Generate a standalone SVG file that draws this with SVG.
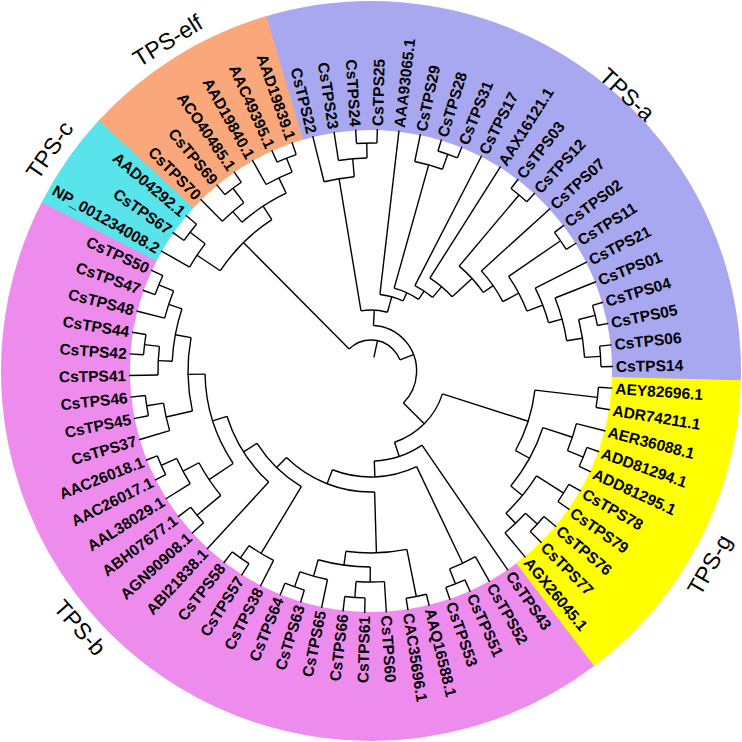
<svg xmlns="http://www.w3.org/2000/svg" width="742" height="742" viewBox="0 0 742 742">
<style>
.t line,.t circle{fill:none;stroke:#000;stroke-width:1.4}
.ring circle{fill:none;stroke-width:129}
text.l{font-family:"Liberation Sans",Arial,sans-serif;font-weight:bold;font-size:15.5px;dominant-baseline:central}
text.e{text-anchor:end}
text.k{font-family:"Liberation Sans",Arial,sans-serif;font-size:23px;text-anchor:middle;dominant-baseline:central}
</style>
<rect width="742" height="742" fill="#fff"/>
<g id="clade-ranges" class="ring" transform="translate(371 371)">
<circle r="305.5" pathLength="360" stroke="#a8a8f0" stroke-dasharray="108.2 360" transform="rotate(-106.6)"/>
<circle r="305.5" pathLength="360" stroke="#ffff00" stroke-dasharray="51.6 360" transform="rotate(1.45)"/>
<circle r="305.5" pathLength="360" stroke="#ee8cee" stroke-dasharray="154.4 360" transform="rotate(52.9)"/>
<circle r="305.5" pathLength="360" stroke="#58e4ea" stroke-dasharray="15.6 360" transform="rotate(207.15)"/>
<circle r="305.5" pathLength="360" stroke="#f9a77b" stroke-dasharray="31 360" transform="rotate(222.6)"/>
</g>
<g id="connectors" class="t" transform="translate(371 371)">
<line x1="14" x2="31" transform="rotate(-77.94)"/>
<circle r="31" pathLength="360" stroke-dasharray="113.7 360" transform="rotate(225.21)"/>
<line x1="31" x2="181" transform="rotate(225.21)"/>
<circle r="181" pathLength="360" stroke-dasharray="23.15 360" transform="rotate(213.64)"/>
<line x1="181" x2="209" transform="rotate(213.64)"/>
<circle r="209" pathLength="360" stroke-dasharray="7.71 360" transform="rotate(209.79)"/>
<line x1="209" x2="242" transform="rotate(209.79)"/>
<line x1="209" x2="228" transform="rotate(217.5)"/>
<circle r="228" pathLength="360" stroke-dasharray="5.14 360" transform="rotate(214.93)"/>
<line x1="228" x2="242" transform="rotate(214.93)"/>
<line x1="228" x2="242" transform="rotate(220.07)"/>
<line x1="181" x2="197" transform="rotate(236.79)"/>
<circle r="197" pathLength="360" stroke-dasharray="15.43 360" transform="rotate(229.07)"/>
<line x1="197" x2="211" transform="rotate(229.07)"/>
<circle r="211" pathLength="360" stroke-dasharray="7.72 360" transform="rotate(225.21)"/>
<line x1="211" x2="242" transform="rotate(225.21)"/>
<line x1="211" x2="229" transform="rotate(232.93)"/>
<circle r="229" pathLength="360" stroke-dasharray="5.14 360" transform="rotate(230.36)"/>
<line x1="229" x2="242" transform="rotate(230.36)"/>
<line x1="229" x2="242" transform="rotate(235.5)"/>
<line x1="197" x2="214" transform="rotate(244.5)"/>
<circle r="214" pathLength="360" stroke-dasharray="7.72 360" transform="rotate(240.64)"/>
<line x1="214" x2="242" transform="rotate(240.64)"/>
<line x1="214" x2="229" transform="rotate(248.36)"/>
<circle r="229" pathLength="360" stroke-dasharray="5.14 360" transform="rotate(245.79)"/>
<line x1="229" x2="242" transform="rotate(245.79)"/>
<line x1="229" x2="242" transform="rotate(250.93)"/>
<line x1="31" x2="45.6" transform="rotate(-21.09)"/>
<circle r="45.6" pathLength="360" stroke-dasharray="131.62 360" transform="rotate(-86.9)"/>
<line x1="45.6" x2="61" transform="rotate(-86.9)"/>
<circle r="61" pathLength="360" stroke-dasharray="25.05 360" transform="rotate(-99.43)"/>
<line x1="61" x2="195" transform="rotate(-99.43)"/>
<circle r="195" pathLength="360" stroke-dasharray="9 360" transform="rotate(-103.93)"/>
<line x1="195" x2="242" transform="rotate(-103.93)"/>
<line x1="195" x2="213" transform="rotate(-94.93)"/>
<circle r="213" pathLength="360" stroke-dasharray="7.72 360" transform="rotate(-98.79)"/>
<line x1="213" x2="242" transform="rotate(-98.79)"/>
<line x1="213" x2="228" transform="rotate(-91.07)"/>
<circle r="228" pathLength="360" stroke-dasharray="5.14 360" transform="rotate(-93.64)"/>
<line x1="228" x2="242" transform="rotate(-93.64)"/>
<line x1="228" x2="242" transform="rotate(-88.5)"/>
<line x1="61" x2="77" transform="rotate(-74.38)"/>
<circle r="77" pathLength="360" stroke-dasharray="17.97 360" transform="rotate(-83.36)"/>
<line x1="77" x2="242" transform="rotate(-83.36)"/>
<line x1="77" x2="86" transform="rotate(-65.39)"/>
<circle r="86" pathLength="360" stroke-dasharray="17.94 360" transform="rotate(-74.36)"/>
<line x1="86" x2="214" transform="rotate(-74.36)"/>
<circle r="214" pathLength="360" stroke-dasharray="7.71 360" transform="rotate(-78.21)"/>
<line x1="214" x2="242" transform="rotate(-78.21)"/>
<line x1="214" x2="230" transform="rotate(-70.5)"/>
<circle r="230" pathLength="360" stroke-dasharray="5.14 360" transform="rotate(-73.07)"/>
<line x1="230" x2="242" transform="rotate(-73.07)"/>
<line x1="230" x2="242" transform="rotate(-67.93)"/>
<line x1="86" x2="96" transform="rotate(-56.42)"/>
<circle r="96" pathLength="360" stroke-dasharray="12.74 360" transform="rotate(-62.79)"/>
<line x1="96" x2="242" transform="rotate(-62.79)"/>
<line x1="96" x2="110" transform="rotate(-50.05)"/>
<circle r="110" pathLength="360" stroke-dasharray="15.18 360" transform="rotate(-57.64)"/>
<line x1="110" x2="242" transform="rotate(-57.64)"/>
<line x1="110" x2="137" transform="rotate(-42.46)"/>
<circle r="137" pathLength="360" stroke-dasharray="14.95 360" transform="rotate(-49.93)"/>
<line x1="137" x2="230" transform="rotate(-49.93)"/>
<circle r="230" pathLength="360" stroke-dasharray="5.14 360" transform="rotate(-52.5)"/>
<line x1="230" x2="242" transform="rotate(-52.5)"/>
<line x1="230" x2="242" transform="rotate(-47.36)"/>
<line x1="137" x2="149" transform="rotate(-34.98)"/>
<circle r="149" pathLength="360" stroke-dasharray="14.46 360" transform="rotate(-42.21)"/>
<line x1="149" x2="242" transform="rotate(-42.21)"/>
<line x1="149" x2="167" transform="rotate(-27.75)"/>
<circle r="167" pathLength="360" stroke-dasharray="13.5 360" transform="rotate(-34.5)"/>
<line x1="167" x2="230" transform="rotate(-34.5)"/>
<circle r="230" pathLength="360" stroke-dasharray="5.14 360" transform="rotate(-37.07)"/>
<line x1="230" x2="242" transform="rotate(-37.07)"/>
<line x1="230" x2="242" transform="rotate(-31.93)"/>
<line x1="167" x2="184" transform="rotate(-21)"/>
<circle r="184" pathLength="360" stroke-dasharray="11.58 360" transform="rotate(-26.79)"/>
<line x1="184" x2="242" transform="rotate(-26.79)"/>
<line x1="184" x2="198" transform="rotate(-15.21)"/>
<circle r="198" pathLength="360" stroke-dasharray="12.85 360" transform="rotate(-21.64)"/>
<line x1="198" x2="242" transform="rotate(-21.64)"/>
<line x1="198" x2="214" transform="rotate(-8.79)"/>
<circle r="214" pathLength="360" stroke-dasharray="10.29 360" transform="rotate(-13.93)"/>
<line x1="214" x2="231" transform="rotate(-13.93)"/>
<circle r="231" pathLength="360" stroke-dasharray="5.14 360" transform="rotate(-16.5)"/>
<line x1="231" x2="242" transform="rotate(-16.5)"/>
<line x1="231" x2="242" transform="rotate(-11.36)"/>
<line x1="214" x2="230" transform="rotate(-3.64)"/>
<circle r="230" pathLength="360" stroke-dasharray="5.14 360" transform="rotate(-6.21)"/>
<line x1="230" x2="242" transform="rotate(-6.21)"/>
<line x1="230" x2="242" transform="rotate(-1.07)"/>
<line x1="45.6" x2="75" transform="rotate(44.72)"/>
<circle r="75" pathLength="360" stroke-dasharray="53.97 360" transform="rotate(17.73)"/>
<line x1="75" x2="165" transform="rotate(17.73)"/>
<circle r="165" pathLength="360" stroke-dasharray="22.18 360" transform="rotate(6.64)"/>
<line x1="165" x2="228" transform="rotate(6.64)"/>
<circle r="228" pathLength="360" stroke-dasharray="5.14 360" transform="rotate(4.07)"/>
<line x1="228" x2="242" transform="rotate(4.07)"/>
<line x1="228" x2="242" transform="rotate(9.21)"/>
<line x1="165" x2="181" transform="rotate(28.82)"/>
<circle r="181" pathLength="360" stroke-dasharray="21.22 360" transform="rotate(18.21)"/>
<line x1="181" x2="212" transform="rotate(18.21)"/>
<circle r="212" pathLength="360" stroke-dasharray="7.71 360" transform="rotate(14.36)"/>
<line x1="212" x2="242" transform="rotate(14.36)"/>
<line x1="212" x2="229" transform="rotate(22.07)"/>
<circle r="229" pathLength="360" stroke-dasharray="5.14 360" transform="rotate(19.5)"/>
<line x1="229" x2="242" transform="rotate(19.5)"/>
<line x1="229" x2="242" transform="rotate(24.64)"/>
<line x1="181" x2="196" transform="rotate(39.43)"/>
<circle r="196" pathLength="360" stroke-dasharray="14.14 360" transform="rotate(32.36)"/>
<line x1="196" x2="228" transform="rotate(32.36)"/>
<circle r="228" pathLength="360" stroke-dasharray="5.14 360" transform="rotate(29.79)"/>
<line x1="228" x2="242" transform="rotate(29.79)"/>
<line x1="228" x2="242" transform="rotate(34.93)"/>
<line x1="196" x2="210" transform="rotate(46.5)"/>
<circle r="210" pathLength="360" stroke-dasharray="7.72 360" transform="rotate(42.64)"/>
<line x1="210" x2="226" transform="rotate(42.64)"/>
<circle r="226" pathLength="360" stroke-dasharray="5.14 360" transform="rotate(40.07)"/>
<line x1="226" x2="242" transform="rotate(40.07)"/>
<line x1="226" x2="242" transform="rotate(45.21)"/>
<line x1="210" x2="242" transform="rotate(50.36)"/>
<line x1="75" x2="90" transform="rotate(71.7)"/>
<circle r="90" pathLength="360" stroke-dasharray="32.4 360" transform="rotate(55.5)"/>
<line x1="90" x2="242" transform="rotate(55.5)"/>
<line x1="90" x2="106" transform="rotate(87.9)"/>
<circle r="106" pathLength="360" stroke-dasharray="46.81 360" transform="rotate(64.5)"/>
<line x1="106" x2="213" transform="rotate(64.5)"/>
<circle r="213" pathLength="360" stroke-dasharray="7.72 360" transform="rotate(60.64)"/>
<line x1="213" x2="242" transform="rotate(60.64)"/>
<line x1="213" x2="229" transform="rotate(68.36)"/>
<circle r="229" pathLength="360" stroke-dasharray="5.14 360" transform="rotate(65.79)"/>
<line x1="229" x2="242" transform="rotate(65.79)"/>
<line x1="229" x2="242" transform="rotate(70.93)"/>
<line x1="106" x2="121" transform="rotate(111.31)"/>
<circle r="121" pathLength="360" stroke-dasharray="46.04 360" transform="rotate(88.29)"/>
<line x1="121" x2="182" transform="rotate(88.29)"/>
<circle r="182" pathLength="360" stroke-dasharray="19.29 360" transform="rotate(78.64)"/>
<line x1="182" x2="230" transform="rotate(78.64)"/>
<circle r="230" pathLength="360" stroke-dasharray="5.14 360" transform="rotate(76.07)"/>
<line x1="230" x2="242" transform="rotate(76.07)"/>
<line x1="230" x2="242" transform="rotate(81.21)"/>
<line x1="182" x2="196" transform="rotate(97.93)"/>
<circle r="196" pathLength="360" stroke-dasharray="15.43 360" transform="rotate(90.21)"/>
<line x1="196" x2="211" transform="rotate(90.21)"/>
<circle r="211" pathLength="360" stroke-dasharray="7.71 360" transform="rotate(86.36)"/>
<line x1="211" x2="242" transform="rotate(86.36)"/>
<line x1="211" x2="227" transform="rotate(94.07)"/>
<circle r="227" pathLength="360" stroke-dasharray="5.14 360" transform="rotate(91.5)"/>
<line x1="227" x2="242" transform="rotate(91.5)"/>
<line x1="227" x2="242" transform="rotate(96.64)"/>
<line x1="196" x2="213" transform="rotate(105.64)"/>
<circle r="213" pathLength="360" stroke-dasharray="7.71 360" transform="rotate(101.79)"/>
<line x1="213" x2="242" transform="rotate(101.79)"/>
<line x1="213" x2="229" transform="rotate(109.5)"/>
<circle r="229" pathLength="360" stroke-dasharray="5.14 360" transform="rotate(106.93)"/>
<line x1="229" x2="242" transform="rotate(106.93)"/>
<line x1="229" x2="242" transform="rotate(112.07)"/>
<line x1="121" x2="135" transform="rotate(134.33)"/>
<circle r="135" pathLength="360" stroke-dasharray="26.52 360" transform="rotate(121.07)"/>
<line x1="135" x2="213" transform="rotate(121.07)"/>
<circle r="213" pathLength="360" stroke-dasharray="7.72 360" transform="rotate(117.21)"/>
<line x1="213" x2="242" transform="rotate(117.21)"/>
<line x1="213" x2="228" transform="rotate(124.93)"/>
<circle r="228" pathLength="360" stroke-dasharray="5.14 360" transform="rotate(122.36)"/>
<line x1="228" x2="242" transform="rotate(122.36)"/>
<line x1="228" x2="242" transform="rotate(127.5)"/>
<line x1="135" x2="151" transform="rotate(147.59)"/>
<circle r="151" pathLength="360" stroke-dasharray="29.9 360" transform="rotate(132.64)"/>
<line x1="151" x2="242" transform="rotate(132.64)"/>
<line x1="151" x2="166" transform="rotate(162.54)"/>
<circle r="166" pathLength="360" stroke-dasharray="32.79 360" transform="rotate(146.14)"/>
<line x1="166" x2="195" transform="rotate(146.14)"/>
<circle r="195" pathLength="360" stroke-dasharray="11.57 360" transform="rotate(140.36)"/>
<line x1="195" x2="226" transform="rotate(140.36)"/>
<circle r="226" pathLength="360" stroke-dasharray="5.14 360" transform="rotate(137.79)"/>
<line x1="226" x2="242" transform="rotate(137.79)"/>
<line x1="226" x2="242" transform="rotate(142.93)"/>
<line x1="195" x2="213" transform="rotate(151.93)"/>
<circle r="213" pathLength="360" stroke-dasharray="7.72 360" transform="rotate(148.07)"/>
<line x1="213" x2="242" transform="rotate(148.07)"/>
<line x1="213" x2="230" transform="rotate(155.79)"/>
<circle r="230" pathLength="360" stroke-dasharray="5.15 360" transform="rotate(153.21)"/>
<line x1="230" x2="242" transform="rotate(153.21)"/>
<line x1="230" x2="242" transform="rotate(158.36)"/>
<line x1="166" x2="183" transform="rotate(178.93)"/>
<circle r="183" pathLength="360" stroke-dasharray="23.14 360" transform="rotate(167.36)"/>
<line x1="183" x2="210" transform="rotate(167.36)"/>
<circle r="210" pathLength="360" stroke-dasharray="7.71 360" transform="rotate(163.5)"/>
<line x1="210" x2="242" transform="rotate(163.5)"/>
<line x1="210" x2="227" transform="rotate(171.21)"/>
<circle r="227" pathLength="360" stroke-dasharray="5.15 360" transform="rotate(168.64)"/>
<line x1="227" x2="242" transform="rotate(168.64)"/>
<line x1="227" x2="242" transform="rotate(173.79)"/>
<line x1="183" x2="199" transform="rotate(190.5)"/>
<circle r="199" pathLength="360" stroke-dasharray="15.42 360" transform="rotate(182.79)"/>
<line x1="199" x2="213" transform="rotate(182.79)"/>
<circle r="213" pathLength="360" stroke-dasharray="7.71 360" transform="rotate(178.93)"/>
<line x1="213" x2="242" transform="rotate(178.93)"/>
<line x1="213" x2="228" transform="rotate(186.64)"/>
<circle r="228" pathLength="360" stroke-dasharray="5.14 360" transform="rotate(184.07)"/>
<line x1="228" x2="242" transform="rotate(184.07)"/>
<line x1="228" x2="242" transform="rotate(189.21)"/>
<line x1="199" x2="213" transform="rotate(198.21)"/>
<circle r="213" pathLength="360" stroke-dasharray="7.71 360" transform="rotate(194.36)"/>
<line x1="213" x2="242" transform="rotate(194.36)"/>
<line x1="213" x2="229" transform="rotate(202.07)"/>
<circle r="229" pathLength="360" stroke-dasharray="5.14 360" transform="rotate(199.5)"/>
<line x1="229" x2="242" transform="rotate(199.5)"/>
<line x1="229" x2="242" transform="rotate(204.64)"/>
</g>
<g id="leaves" transform="translate(371 371)">
<g id="n-CsTPS25"><text class="l" transform="rotate(-88.5) translate(245 0)">CsTPS25</text></g>
<g id="n-AAA93065.1"><text class="l" transform="rotate(-83.36) translate(245 0)">AAA93065.1</text></g>
<g id="n-CsTPS29"><text class="l" transform="rotate(-78.21) translate(245 0)">CsTPS29</text></g>
<g id="n-CsTPS28"><text class="l" transform="rotate(-73.07) translate(245 0)">CsTPS28</text></g>
<g id="n-CsTPS31"><text class="l" transform="rotate(-67.93) translate(245 0)">CsTPS31</text></g>
<g id="n-CsTPS17"><text class="l" transform="rotate(-62.79) translate(245 0)">CsTPS17</text></g>
<g id="n-AAX16121.1"><text class="l" transform="rotate(-57.64) translate(245 0)">AAX16121.1</text></g>
<g id="n-CsTPS03"><text class="l" transform="rotate(-52.5) translate(245 0)">CsTPS03</text></g>
<g id="n-CsTPS12"><text class="l" transform="rotate(-47.36) translate(245 0)">CsTPS12</text></g>
<g id="n-CsTPS07"><text class="l" transform="rotate(-42.21) translate(245 0)">CsTPS07</text></g>
<g id="n-CsTPS02"><text class="l" transform="rotate(-37.07) translate(245 0)">CsTPS02</text></g>
<g id="n-CsTPS11"><text class="l" transform="rotate(-31.93) translate(245 0)">CsTPS11</text></g>
<g id="n-CsTPS21"><text class="l" transform="rotate(-26.79) translate(245 0)">CsTPS21</text></g>
<g id="n-CsTPS01"><text class="l" transform="rotate(-21.64) translate(245 0)">CsTPS01</text></g>
<g id="n-CsTPS04"><text class="l" transform="rotate(-16.5) translate(245 0)">CsTPS04</text></g>
<g id="n-CsTPS05"><text class="l" transform="rotate(-11.36) translate(245 0)">CsTPS05</text></g>
<g id="n-CsTPS06"><text class="l" transform="rotate(-6.21) translate(245 0)">CsTPS06</text></g>
<g id="n-CsTPS14"><text class="l" transform="rotate(-1.07) translate(245 0)">CsTPS14</text></g>
<g id="n-AEY82696.1"><text class="l" transform="rotate(4.07) translate(245 0)">AEY82696.1</text></g>
<g id="n-ADR74211.1"><text class="l" transform="rotate(9.21) translate(245 0)">ADR74211.1</text></g>
<g id="n-AER36088.1"><text class="l" transform="rotate(14.36) translate(245 0)">AER36088.1</text></g>
<g id="n-ADD81294.1"><text class="l" transform="rotate(19.5) translate(245 0)">ADD81294.1</text></g>
<g id="n-ADD81295.1"><text class="l" transform="rotate(24.64) translate(245 0)">ADD81295.1</text></g>
<g id="n-CsTPS78"><text class="l" transform="rotate(29.79) translate(245 0)">CsTPS78</text></g>
<g id="n-CsTPS79"><text class="l" transform="rotate(34.93) translate(245 0)">CsTPS79</text></g>
<g id="n-CsTPS76"><text class="l" transform="rotate(40.07) translate(245 0)">CsTPS76</text></g>
<g id="n-CsTPS77"><text class="l" transform="rotate(45.21) translate(245 0)">CsTPS77</text></g>
<g id="n-AGX26045.1"><text class="l" transform="rotate(50.36) translate(245 0)">AGX26045.1</text></g>
<g id="n-CsTPS43"><text class="l" transform="rotate(55.5) translate(245 0)">CsTPS43</text></g>
<g id="n-CsTPS52"><text class="l" transform="rotate(60.64) translate(245 0)">CsTPS52</text></g>
<g id="n-CsTPS51"><text class="l" transform="rotate(65.79) translate(245 0)">CsTPS51</text></g>
<g id="n-CsTPS53"><text class="l" transform="rotate(70.93) translate(245 0)">CsTPS53</text></g>
<g id="n-AAQ16588.1"><text class="l" transform="rotate(76.07) translate(245 0)">AAQ16588.1</text></g>
<g id="n-CAC35696.1"><text class="l" transform="rotate(81.21) translate(245 0)">CAC35696.1</text></g>
<g id="n-CsTPS60"><text class="l" transform="rotate(86.36) translate(245 0)">CsTPS60</text></g>
<g id="n-CsTPS61"><text class="l e" transform="rotate(-88.5) translate(-245 0)">CsTPS61</text></g>
<g id="n-CsTPS66"><text class="l e" transform="rotate(-83.36) translate(-245 0)">CsTPS66</text></g>
<g id="n-CsTPS65"><text class="l e" transform="rotate(-78.21) translate(-245 0)">CsTPS65</text></g>
<g id="n-CsTPS63"><text class="l e" transform="rotate(-73.07) translate(-245 0)">CsTPS63</text></g>
<g id="n-CsTPS64"><text class="l e" transform="rotate(-67.93) translate(-245 0)">CsTPS64</text></g>
<g id="n-CsTPS38"><text class="l e" transform="rotate(-62.79) translate(-245 0)">CsTPS38</text></g>
<g id="n-CsTPS57"><text class="l e" transform="rotate(-57.64) translate(-245 0)">CsTPS57</text></g>
<g id="n-CsTPS58"><text class="l e" transform="rotate(-52.5) translate(-245 0)">CsTPS58</text></g>
<g id="n-ABI21838.1"><text class="l e" transform="rotate(-47.36) translate(-245 0)">ABI21838.1</text></g>
<g id="n-AGN90908.1"><text class="l e" transform="rotate(-42.21) translate(-245 0)">AGN90908.1</text></g>
<g id="n-ABH07677.1"><text class="l e" transform="rotate(-37.07) translate(-245 0)">ABH07677.1</text></g>
<g id="n-AAL38029.1"><text class="l e" transform="rotate(-31.93) translate(-245 0)">AAL38029.1</text></g>
<g id="n-AAC26017.1"><text class="l e" transform="rotate(-26.79) translate(-245 0)">AAC26017.1</text></g>
<g id="n-AAC26018.1"><text class="l e" transform="rotate(-21.64) translate(-245 0)">AAC26018.1</text></g>
<g id="n-CsTPS37"><text class="l e" transform="rotate(-16.5) translate(-245 0)">CsTPS37</text></g>
<g id="n-CsTPS45"><text class="l e" transform="rotate(-11.36) translate(-245 0)">CsTPS45</text></g>
<g id="n-CsTPS46"><text class="l e" transform="rotate(-6.21) translate(-245 0)">CsTPS46</text></g>
<g id="n-CsTPS41"><text class="l e" transform="rotate(-1.07) translate(-245 0)">CsTPS41</text></g>
<g id="n-CsTPS42"><text class="l e" transform="rotate(4.07) translate(-245 0)">CsTPS42</text></g>
<g id="n-CsTPS44"><text class="l e" transform="rotate(9.21) translate(-245 0)">CsTPS44</text></g>
<g id="n-CsTPS48"><text class="l e" transform="rotate(14.36) translate(-245 0)">CsTPS48</text></g>
<g id="n-CsTPS47"><text class="l e" transform="rotate(19.5) translate(-245 0)">CsTPS47</text></g>
<g id="n-CsTPS50"><text class="l e" transform="rotate(24.64) translate(-245 0)">CsTPS50</text></g>
<g id="n-NP_001234008.2"><text class="l e" transform="rotate(29.79) translate(-245 0)">NP_001234008.2</text></g>
<g id="n-CsTPS67"><text class="l e" transform="rotate(34.93) translate(-245 0)">CsTPS67</text></g>
<g id="n-AAD04292.1"><text class="l e" transform="rotate(40.07) translate(-245 0)">AAD04292.1</text></g>
<g id="n-CsTPS70"><text class="l e" transform="rotate(45.21) translate(-245 0)">CsTPS70</text></g>
<g id="n-CsTPS69"><text class="l e" transform="rotate(50.36) translate(-245 0)">CsTPS69</text></g>
<g id="n-ACO40485.1"><text class="l e" transform="rotate(55.5) translate(-245 0)">ACO40485.1</text></g>
<g id="n-AAD19840.1"><text class="l e" transform="rotate(60.64) translate(-245 0)">AAD19840.1</text></g>
<g id="n-AAC49395.1"><text class="l e" transform="rotate(65.79) translate(-245 0)">AAC49395.1</text></g>
<g id="n-AAD19839.1"><text class="l e" transform="rotate(70.93) translate(-245 0)">AAD19839.1</text></g>
<g id="n-CsTPS22"><text class="l e" transform="rotate(76.07) translate(-245 0)">CsTPS22</text></g>
<g id="n-CsTPS23"><text class="l e" transform="rotate(81.21) translate(-245 0)">CsTPS23</text></g>
<g id="n-CsTPS24"><text class="l e" transform="rotate(86.36) translate(-245 0)">CsTPS24</text></g>
</g>
<g id="clade-labels" transform="translate(371 371)">
<g id="lbl-TPS-a"><text class="k" transform="rotate(-47.2) translate(377 0) rotate(90)">TPS-a</text></g>
<g id="lbl-TPS-g"><text class="k" transform="rotate(29.8) translate(390 0) rotate(-90)">TPS-g</text></g>
<g id="lbl-TPS-b"><text class="k" transform="rotate(138.6) translate(388 0) rotate(-90)">TPS-b</text></g>
<g id="lbl-TPS-c"><text class="k" transform="rotate(214.5) translate(390 0) rotate(90)">TPS-c</text></g>
<g id="lbl-TPS-elf"><text class="k" transform="rotate(238.4) translate(388 0) rotate(90)">TPS-elf</text></g>
</g>
</svg>
